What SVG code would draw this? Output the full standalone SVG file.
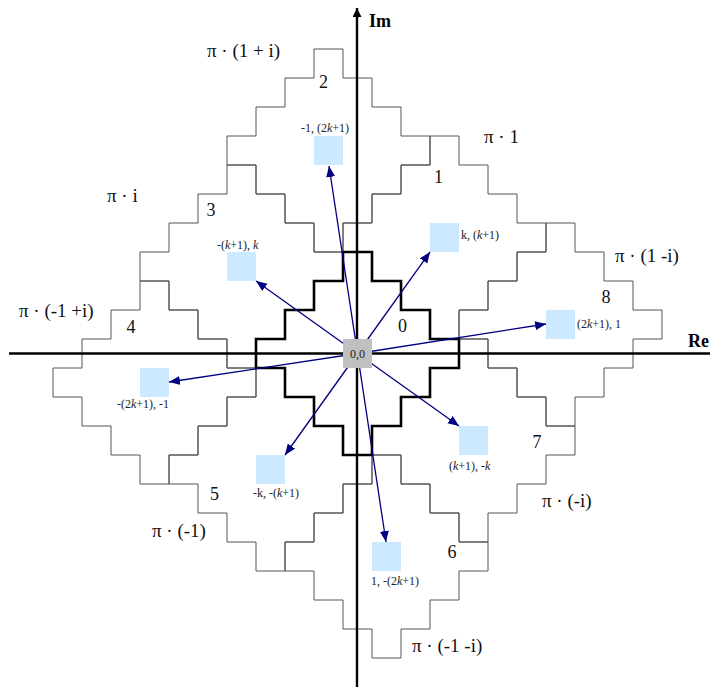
<svg xmlns="http://www.w3.org/2000/svg" xmlns:xlink="http://www.w3.org/1999/xlink" width="710" height="687" viewBox="0 0 710 687">
<style>
.cell{fill:none;stroke:#555;stroke-width:1}
.bold{fill:none;stroke:#000;stroke-width:2.6}
.axis{stroke:#000;stroke-width:2.4}
.tgt{fill:#CCE9FF}
.arr{stroke:#000080;stroke-width:1.3;fill:none;marker-end:url(#ah)}
.big{font-family:"Liberation Serif","Times New Roman",serif;font-size:19px;fill:#111}
.num{font-family:"Liberation Serif","Times New Roman",serif;font-size:18px;fill:#111}
.sm{font-family:"Liberation Serif","Times New Roman",serif;font-size:12px;fill:#222}
.ax{font-family:"Liberation Serif","Times New Roman",serif;font-size:18px;font-weight:bold;fill:#000}
.it{font-style:italic}
</style>
<defs>
<path id="dia" d="M-14.5,-101.5 h29 v29 h29 v29 h29 v29 h29 v29 h-29 v29 h-29 v29 h-29 v29 h-29 v-29 h-29 v-29 h-29 v-29 h-29 v-29 h29 v-29 h29 v-29 h29 z"/>
<marker id="ah" markerUnits="userSpaceOnUse" markerWidth="12" markerHeight="10" refX="11" refY="4.5" orient="auto">
<path d="M0,0 L11,4.5 L0,9 z" fill="#000080"/>
</marker>
<marker id="axh" markerUnits="userSpaceOnUse" markerWidth="10" markerHeight="10" refX="9" refY="4.5" orient="auto">
<path d="M0,0 L9,4.5 L0,9 z" fill="#000"/>
</marker>
</defs>

<g id="regions">
<use xlink:href="#dia" class="cell" x="444.5" y="237.5"/>
<use xlink:href="#dia" class="cell" x="328.5" y="150.5"/>
<use xlink:href="#dia" class="cell" x="241.5" y="266.5"/>
<use xlink:href="#dia" class="cell" x="154.5" y="382.5"/>
<use xlink:href="#dia" class="cell" x="270.5" y="469.5"/>
<use xlink:href="#dia" class="cell" x="386.5" y="556.5"/>
<use xlink:href="#dia" class="cell" x="473.5" y="440.5"/>
<use xlink:href="#dia" class="cell" x="560.5" y="324.5"/>
<use xlink:href="#dia" class="bold" x="357.5" y="353.5"/>
</g>

<g id="axes">
<line class="axis" x1="9" y1="353.5" x2="710" y2="353.5"/>
<line class="axis" x1="357" y1="687" x2="357" y2="8" marker-end="url(#axh)"/>
<text class="ax" x="369" y="27">Im</text>
<text class="ax" x="688" y="347">Re</text>
</g>

<g id="connectors">
<line class="arr" x1="357.5" y1="353.5" x2="329" y2="166"/>
<line class="arr" x1="357.5" y1="353.5" x2="430" y2="252"/>
<line class="arr" x1="357.5" y1="353.5" x2="256" y2="281"/>
<line class="arr" x1="357.5" y1="353.5" x2="169" y2="382"/>
<line class="arr" x1="357.5" y1="353.5" x2="285" y2="455"/>
<line class="arr" x1="357.5" y1="353.5" x2="386" y2="542"/>
<line class="arr" x1="357.5" y1="353.5" x2="459" y2="426"/>
<line class="arr" x1="357.5" y1="353.5" x2="546" y2="324"/>
</g>

<g id="origin">
<rect x="343" y="339" width="29" height="29" fill="#C0C0C0"/>
<text class="sm" x="357.5" y="358" text-anchor="middle" fill="#333">0,0</text>
</g>

<g id="t1"><rect class="tgt" x="430" y="223" width="29" height="29"/><text class="sm" x="461" y="239">k, (<tspan class="it">k</tspan>+1)</text></g>
<g id="t2"><rect class="tgt" x="314" y="136" width="29" height="29"/><text class="sm" x="301" y="132">-1, (2<tspan class="it">k</tspan>+1)</text></g>
<g id="t3"><rect class="tgt" x="227" y="252" width="29" height="29"/><text class="sm" x="217" y="249">-(<tspan class="it">k</tspan>+1),  <tspan class="it">k</tspan></text></g>
<g id="t4"><rect class="tgt" x="140" y="368" width="29" height="29"/><text class="sm" x="117" y="408">-(2<tspan class="it">k</tspan>+1),  -1</text></g>
<g id="t5"><rect class="tgt" x="256" y="455" width="29" height="29"/><text class="sm" x="253" y="497">-k, -(<tspan class="it">k</tspan>+1)</text></g>
<g id="t6"><rect class="tgt" x="372" y="542" width="29" height="29"/><text class="sm" x="371" y="585">1, -(2<tspan class="it">k</tspan>+1)</text></g>
<g id="t7"><rect class="tgt" x="459" y="426" width="29" height="29"/><text class="sm" x="449" y="470">(<tspan class="it">k</tspan>+1), -<tspan class="it">k</tspan></text></g>
<g id="t8"><rect class="tgt" x="546" y="310" width="29" height="29"/><text class="sm" x="577" y="328">(2<tspan class="it">k</tspan>+1), 1</text></g>

<g id="numbers">
<text class="num" x="402.5" y="332" text-anchor="middle">0</text>
<text class="num" x="438.5" y="183" text-anchor="middle">1</text>
<text class="num" x="323.5" y="88" text-anchor="middle">2</text>
<text class="num" x="211" y="216" text-anchor="middle">3</text>
<text class="num" x="131" y="333" text-anchor="middle">4</text>
<text class="num" x="214.5" y="500" text-anchor="middle">5</text>
<text class="num" x="452" y="558" text-anchor="middle">6</text>
<text class="num" x="537" y="448" text-anchor="middle">7</text>
<text class="num" x="606" y="303" text-anchor="middle">8</text>
</g>

<g id="labels">
<text class="big" x="207" y="57">π · (1 + i)</text>
<text class="big" x="484" y="143">π · 1</text>
<text class="big" x="107" y="202">π · i</text>
<text class="big" x="615" y="262">π · (1 -i)</text>
<text class="big" x="19" y="317">π · (-1 +i)</text>
<text class="big" x="152" y="537">π · (-1)</text>
<text class="big" x="542" y="507">π · (-i)</text>
<text class="big" x="412" y="652">π · (-1 -i)</text>
</g>
</svg>
